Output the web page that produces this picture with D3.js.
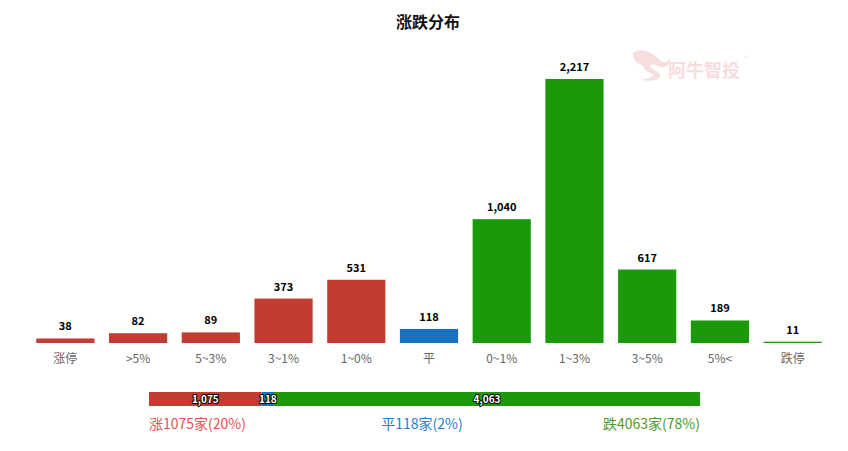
<!DOCTYPE html>
<html>
<head>
<meta charset="utf-8">
<script src="https://cdn.jsdelivr.net/npm/d3@7/dist/d3.min.js"></script>
<style>
html,body{margin:0;padding:0;background:#fff;}
svg{display:block;font-family:"Microsoft YaHei","Noto Sans CJK SC","Noto Sans",sans-serif;}
</style>
</head>
<body>
<svg id="chart" width="848" height="451"></svg>
<script>
const categories = ["涨停", ">5%", "5~3%", "3~1%", "1~0%", "平", "0~1%", "1~3%", "3~5%", "5%<", "跌停"];
const values = [38, 82, 89, 373, 531, 118, 1040, 2217, 617, 189, 11];
const groups = ["up","up","up","up","up","flat","down","down","down","down","down"];
const summaryKeys = ["涨", "平", "跌"];
const summaryValues = [1075, 118, 4063];
const summaryPct = ["20%", "2%", "78%"];

const colors = {up: "#c23c33", flat: "#1a72bf", down: "#1a9a0a"};
const textColors = {up: "#e05454", flat: "#2a7cc8", down: "#4a9a2a"};
const svg = d3.select("#chart");
const fmt = d3.format(",");

// Title
svg.append("text").attr("x", 428).attr("y", 28).attr("text-anchor", "middle")
  .attr("font-size", 16).attr("font-weight", "bold").attr("fill", "#111").text("涨跌分布");

// Watermark
const wm = svg.append("g").attr("opacity", 0.9);
wm.append("path")
  .attr("d", "M633,53 C640,47 652,52 660,60 C664,64 668,62 671,58 C670,66 664,69 658,66 C654,64 650,64 650,67 C652,70 658,71 660,74 C661,79 654,82 642,80 C650,78 655,77 652,74 C648,72 644,70 643,66 C638,64 632,60 633,53 Z")
  .attr("fill", "#f7dada");
wm.append("text").attr("x", 668).attr("y", 77).attr("font-size", 18).attr("font-weight", "bold")
  .attr("fill", "#f7dada").text("阿牛智投");
wm.append("text").attr("x", 744).attr("y", 61).attr("font-size", 7).attr("fill", "#f7dada").text("®");

// Bar chart
const x = d3.scaleBand().domain(categories).range([29, 829]).paddingInner(0.2).paddingOuter(0.1);
const y = d3.scaleLinear().domain([0, 2217]).range([343, 79]);

const data = categories.map((c, i) => ({c, v: values[i], g: groups[i]}));

svg.append("g").selectAll("rect").data(data).join("rect")
  .attr("x", d => x(d.c)).attr("width", x.bandwidth())
  .attr("y", d => Math.min(y(d.v), 342)).attr("height", d => Math.max(343 - y(d.v), 1))
  .attr("fill", d => colors[d.g]);

svg.append("g").selectAll("text").data(data).join("text")
  .attr("x", d => x(d.c) + x.bandwidth() / 2).attr("y", d => Math.min(y(d.v), 342) - 8)
  .attr("text-anchor", "middle").attr("font-size", 11).attr("font-weight", "bold")
  .attr("fill", "#000").text(d => fmt(d.v));

const xAxis = d3.axisBottom(x).tickSize(0).tickPadding(11);
const ax = svg.append("g").attr("transform", "translate(0,343)").call(xAxis);
ax.select(".domain").remove();
ax.selectAll("text").attr("font-size", 12).attr("fill", "#666")
  .attr("font-family", "'Microsoft YaHei','Noto Sans CJK SC',sans-serif");

// Summary stacked bar
const total = d3.sum(summaryValues);
const sx = d3.scaleLinear().domain([0, total]).range([149, 700]);
const sdata = [];
let acc = 0;
summaryValues.forEach((v, i) => { sdata.push({k: summaryKeys[i], v, x0: acc, x1: acc + v, g: ["up","flat","down"][i], p: summaryPct[i]}); acc += v; });

const sb = svg.append("g");
sb.selectAll("rect").data(sdata).join("rect")
  .attr("x", d => sx(d.x0)).attr("width", d => sx(d.x1) - sx(d.x0))
  .attr("y", 392).attr("height", 14).attr("fill", d => colors[d.g]);
sb.selectAll("text").data(sdata).join("text")
  .attr("x", d => (sx(d.x0) + sx(d.x1)) / 2).attr("y", 403)
  .attr("text-anchor", "middle").attr("font-size", 10).attr("font-weight", "bold")
  .attr("fill", "#fff").attr("stroke", "#000").attr("stroke-width", 2)
  .attr("paint-order", "stroke").text(d => fmt(d.v));

// Summary legend
const anchors = ["start", "middle", "end"];
const lx = [149, 422, 700];
svg.append("g").selectAll("text").data(sdata).join("text")
  .attr("x", (d, i) => lx[i]).attr("y", 429).attr("text-anchor", (d, i) => anchors[i])
  .attr("font-size", 14).attr("fill", d => textColors[d.g])
  .text(d => `${d.k}${d.v}家(${d.p})`);
</script>
</body>
</html>
